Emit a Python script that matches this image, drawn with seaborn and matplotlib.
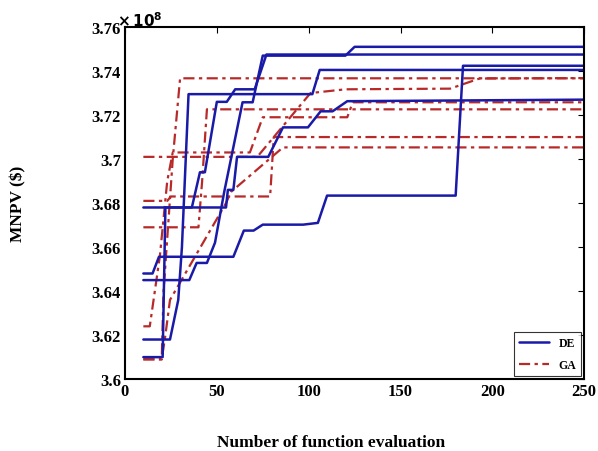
import matplotlib
matplotlib.use("Agg")
import matplotlib.pyplot as plt
import seaborn as sns
import pandas as pd

# MNPV values in units of 1e8 $
de1_x = [10, 24.5, 29, 31, 34.6, 102, 106, 250]
de1_y = [3.618, 3.618, 3.636, 3.660, 3.7295, 3.7295, 3.7405, 3.7405]
de2_x = [10, 55, 56, 59, 61, 78, 86, 99.6, 106.5, 113, 121, 250]
de2_y = [3.678, 3.678, 3.686, 3.686, 3.701, 3.701, 3.7144, 3.7144, 3.7217, 3.7217, 3.7263, 3.727]
de3_x = [10, 35, 39, 44.6, 49, 54, 64, 69.5, 75, 120, 125, 250]
de3_y = [3.645, 3.645, 3.6528, 3.6528, 3.662, 3.685, 3.7258, 3.7258, 3.747, 3.747, 3.751, 3.751]
de4_x = [10, 20.5, 22, 36.4, 40.8, 43.5, 50, 55.4, 60, 70.6, 77, 250]
de4_y = [3.610, 3.610, 3.678, 3.678, 3.694, 3.694, 3.726, 3.726, 3.7317, 3.7317, 3.7475, 3.7475]
de5_x = [10, 15, 18.5, 59, 64.7, 70, 75, 97, 105, 110, 180, 184, 250]
de5_y = [3.648, 3.648, 3.6556, 3.6556, 3.6675, 3.6675, 3.6702, 3.6702, 3.671, 3.6834, 3.6834, 3.7424, 3.7424]

ga1_x = [10, 20, 21, 26, 30, 250]
ga1_y = [3.609, 3.609, 3.640, 3.700, 3.7367, 3.7367]
ga2_x = [10, 13.5, 19, 23, 26, 68, 75, 121, 124, 250]
ga2_y = [3.624, 3.624, 3.656, 3.690, 3.703, 3.703, 3.719, 3.719, 3.7258, 3.7258]
ga3_x = [10, 40, 42, 44.6, 250]
ga3_y = [3.669, 3.669, 3.690, 3.7226, 3.7226]
ga4_x = [10, 23, 25, 79, 81, 250]
ga4_y = [3.681, 3.681, 3.683, 3.683, 3.710, 3.710]
ga5_x = [10, 72, 101, 120, 177, 193, 250]
ga5_y = [3.701, 3.701, 3.730, 3.7317, 3.732, 3.7366, 3.7368]
ga6_x = [10, 20, 22, 24.5, 55, 57.6, 86, 250]
ga6_y = [3.609, 3.609, 3.620, 3.636, 3.680, 3.685, 3.7053, 3.7053]

de_runs = [(de1_x, de1_y), (de2_x, de2_y), (de3_x, de3_y), (de4_x, de4_y), (de5_x, de5_y)]
ga_runs = [(ga1_x, ga1_y), (ga2_x, ga2_y), (ga3_x, ga3_y), (ga4_x, ga4_y), (ga5_x, ga5_y), (ga6_x, ga6_y)]

blue = "#1a1aa8"
red = "#b82a2a"

sns.set_style("white")
plt.rcParams['font.family'] = ['Liberation Serif', 'DejaVu Serif']
plt.rcParams['font.weight'] = 'bold'
plt.rcParams['text.color'] = 'black'
plt.rcParams['axes.labelcolor'] = 'black'

fig = plt.figure(figsize=(5.98, 4.52), dpi=100)
ax = fig.add_axes([0.209, 0.159, 0.768, 0.779])

for i, (xs, ys) in enumerate(ga_runs):
    df = pd.DataFrame({"nfe": xs, "mnpv": ys})
    sns.lineplot(data=df, x="nfe", y="mnpv", ax=ax, color=red, lw=1.6,
                 estimator=None, sort=False, label="GA" if i == 0 else None)
    ax.lines[-1].set_dashes((5, 2, 1.5, 2))

for i, (xs, ys) in enumerate(de_runs):
    df = pd.DataFrame({"nfe": xs, "mnpv": ys})
    sns.lineplot(data=df, x="nfe", y="mnpv", ax=ax, color=blue, lw=1.8,
                 estimator=None, sort=False, label="DE" if i == 0 else None)

ax.set_xlim(0, 250)
ax.set_ylim(3.6, 3.76)
ax.set_xticks([0, 50, 100, 150, 200, 250])
yt = [3.6, 3.62, 3.64, 3.66, 3.68, 3.7, 3.72, 3.74, 3.76]
ax.set_yticks(yt)
ax.set_yticklabels([f"{v:g}" for v in yt])
ax.tick_params(direction="in", top=True, right=True, length=4, width=0.8,
               labelsize=12, pad=3, colors="black")
for lab in ax.get_xticklabels() + ax.get_yticklabels():
    lab.set_fontweight("bold")
for sp in ax.spines.values():
    sp.set_color("black")
    sp.set_linewidth(1.5)

ax.set_xlabel("Number of function evaluation", fontsize=12.5, fontweight="bold")
ax.set_ylabel("MNPV ($)", fontsize=12.5, fontweight="bold")
ax.xaxis.set_label_coords(0.449, -0.155)
ax.yaxis.set_label_coords(-0.215, 0.5)

ax.text(-0.018, 0.995, r"$\times\,\mathbf{10^8}$", transform=ax.transAxes,
        fontsize=11, fontweight="bold", va="bottom", ha="left")

handles, labels = ax.get_legend_handles_labels()
order = [labels.index("DE"), labels.index("GA")]
leg = ax.legend([handles[k] for k in order], [labels[k] for k in order],
                loc="lower right", fontsize=8.5, frameon=True, fancybox=False,
                edgecolor="black", handlelength=2.6, borderaxespad=0.25,
                labelspacing=0.9)
leg.get_frame().set_linewidth(0.8)
for t in leg.get_texts():
    t.set_fontweight("bold")

fig.savefig("out.png", dpi=100)
